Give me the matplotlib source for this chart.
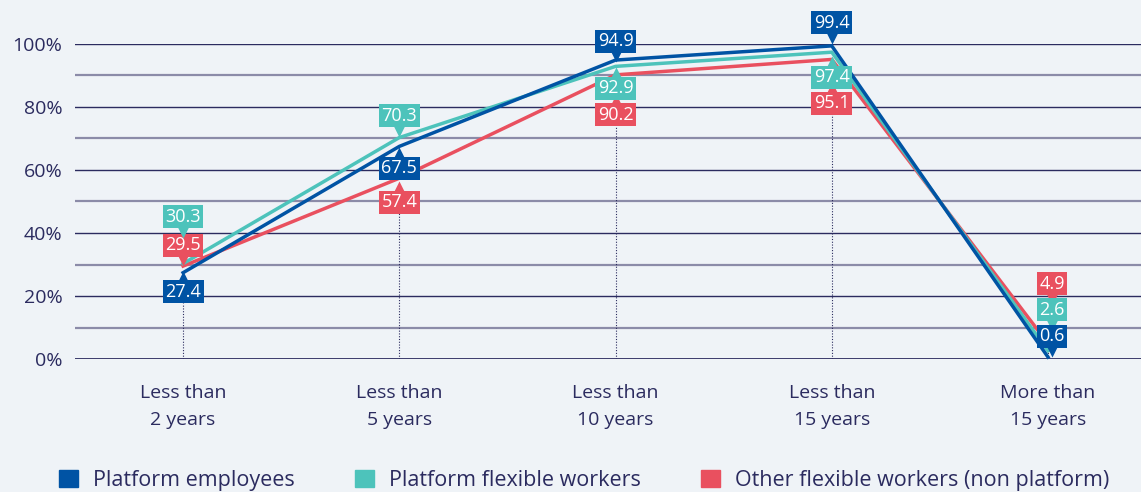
import matplotlib
matplotlib.use("Agg")
import matplotlib.pyplot as plt
from matplotlib.patches import Patch
from matplotlib.transforms import offset_copy

categories = ["Less than\n2 years", "Less than\n5 years", "Less than\n10 years",
              "Less than\n15 years", "More than\n15 years"]
employees = [27.4, 67.5, 94.9, 99.4, 0.6]
platform_flex = [30.3, 70.3, 92.9, 97.4, 2.6]
other_flex = [29.5, 57.4, 90.2, 95.1, 4.9]

series_names = ["Platform employees", "Platform flexible workers",
                "Other flexible workers (non platform)"]

# label offsets in pixels from the point (positive = above)
employees_off = [-19, -22, 19, 23, 21]
platform_off = [47, 22, -22, -25, 41]
other_off = [21, -24, -40, -44, 60]

BG = "#eff3f7"
NAVY = "#2b2b5f"
GRID_MINOR = "#8b8ba8"
BLUE = "#0053a4"
TEAL = "#4dc3bb"
RED = "#e9505f"

plt.rcParams['font.family'] = ['Open Sans', 'DejaVu Sans']

fig = plt.figure(figsize=(11.41, 4.92), dpi=100, facecolor=BG)
ax = fig.add_axes([75 / 1141, 133 / 492, 1 - 75 / 1141, 315 / 492])
ax.set_facecolor(BG)
ax.set_xlim(-0.5, 4.43)
ax.set_ylim(0, 100)

for v in [10, 30, 50, 70, 90]:
    ax.axhline(v, color=GRID_MINOR, lw=1.6, zorder=1)
for v in [20, 40, 60, 80, 100]:
    ax.axhline(v, color=NAVY, lw=1.0, zorder=1)
ax.axhline(0, color=NAVY, lw=2.0, zorder=1)

for s in ax.spines.values():
    s.set_visible(False)
ax.set_yticks([0, 20, 40, 60, 80, 100])
ax.set_yticklabels(["0%", "20%", "40%", "60%", "80%", "100%"])
xs = list(range(len(categories)))
ax.set_xticks(xs)
ax.set_xticklabels(categories, linespacing=1.65)
ax.tick_params(length=0, labelsize=14, colors=NAVY, pad=9)
ax.tick_params(axis='x', pad=18)

px_per_unit = 315 / 100.0

# dotted guides from zero up to the lowest label box
for i in xs:
    low = 1e9
    for vals, offs in [(employees, employees_off), (platform_flex, platform_off), (other_flex, other_off)]:
        bottom = vals[i] + (offs[i] - 11) / px_per_unit
        low = min(low, bottom)
    if low > 0:
        ax.plot([i, i], [0, low], color=NAVY, lw=0.8, ls=(0, (1, 1.5)), zorder=2)

series = [(other_flex, other_off, RED), (platform_flex, platform_off, TEAL), (employees, employees_off, BLUE)]
for z, (vals, offs, col) in enumerate(series):
    ax.plot(xs, vals, color=col, lw=2.5, zorder=3 + z, solid_joinstyle='miter', clip_on=False)

for z, (vals, offs, col) in enumerate(series):
    for i, (v, dy) in enumerate(zip(vals, offs)):
        dx = 4 if i == 4 else 0
        if dy > 0:
            tri_dy, marker = dy - 14, 'v'
        else:
            tri_dy, marker = dy + 14, '^'
        tr = offset_copy(ax.transData, fig=fig, x=dx, y=tri_dy, units='dots')
        ax.plot([i], [v], marker=marker, ms=10, color=col, mec='none',
                transform=tr, zorder=10 + z, clip_on=False)
        ax.annotate(f"{v:.1f}", (i, v), xytext=(dx, dy), textcoords='offset pixels',
                    ha='center', va='center', color='white', fontsize=13,
                    bbox=dict(boxstyle='square,pad=0.14', fc=col, ec='none'),
                    zorder=10 + z, annotation_clip=False)

handles = [Patch(color=BLUE), Patch(color=TEAL), Patch(color=RED)]
fig.legend(handles, series_names, loc='lower left', bbox_to_anchor=(59 / 1141, 1 / 492),
           ncol=3, frameon=False, fontsize=15.5, labelcolor=NAVY, borderpad=0, borderaxespad=0,
           handlelength=0.88, handleheight=0.88, handletextpad=0.7, columnspacing=2.8)

fig.savefig("out.png", dpi=100, facecolor=BG)
